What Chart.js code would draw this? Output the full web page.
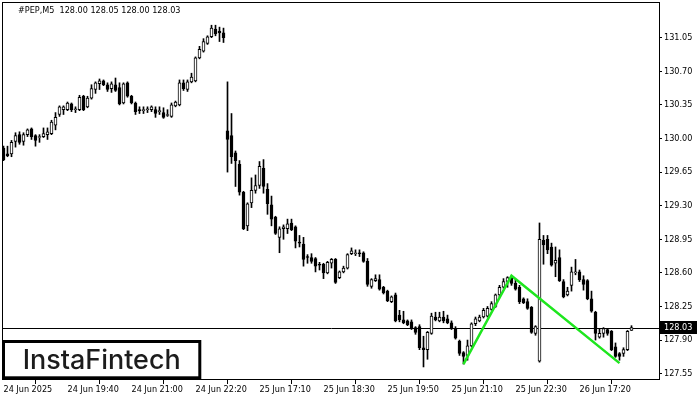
<!DOCTYPE html>
<html><head><meta charset="utf-8">
<script src="https://cdn.jsdelivr.net/npm/chart.js@4"></script>
<style>html,body{margin:0;padding:0;background:#fff;} #wrap{width:700px;height:400px;position:relative;}</style>
</head><body><div id="wrap"><canvas id="c" width="700" height="400"></canvas></div>
<script>
// ---- data (M5 candles) ----
const opens = [129.90,129.84,129.84,129.97,130.04,129.97,130.04,130.10,130.03,130.01,130.02,130.04,130.05,130.14,130.25,130.30,130.30,130.36,130.30,130.30,
130.44,130.33,130.42,130.51,130.57,130.60,130.56,130.52,130.56,130.53,130.37,130.58,130.44,130.37,130.30,130.29,130.30,130.30,130.30,130.28,
130.27,130.24,130.23,130.34,130.35,130.58,130.51,130.59,130.60,130.84,130.91,130.99,131.06,131.14,131.12,131.10,130.08,130.03,129.85,129.73,
129.44,129.09,129.33,129.46,129.51,129.69,129.47,129.31,129.18,128.97,129.06,129.06,129.12,129.08,128.92,128.90,128.77,128.76,128.75,128.69,
128.69,128.60,128.70,128.74,128.55,128.61,128.65,128.80,128.80,128.81,128.81,128.72,128.46,128.52,128.53,128.45,128.41,128.30,128.37,128.16,
128.11,128.10,128.09,128.03,128.04,127.82,127.80,127.97,128.14,128.10,128.14,128.12,128.08,128.02,127.89,127.77,127.74,127.84,128.07,128.10,
128.14,128.15,128.22,128.25,128.37,128.45,128.51,128.55,128.49,128.45,128.33,128.30,128.24,127.97,127.68,128.94,128.95,128.87,128.70,128.76,
128.51,128.37,128.47,128.60,128.61,128.53,128.52,128.33,128.19,127.93,127.97,128.01,127.99,127.83,127.76,127.76,127.80,128.00];
const highs = [129.92,129.92,129.98,130.06,130.07,130.06,130.10,130.11,130.04,130.04,130.11,130.11,130.19,130.27,130.34,130.34,130.38,130.37,130.33,130.45,
130.45,130.44,130.56,130.59,130.62,130.61,130.58,130.59,130.63,130.58,130.58,130.59,130.45,130.38,130.33,130.33,130.33,130.34,130.33,130.33,
130.32,130.30,130.37,130.39,130.61,130.61,130.61,130.68,130.85,130.96,131.04,131.07,131.18,131.18,131.16,131.15,130.59,130.26,129.87,129.77,
129.45,129.33,129.59,129.62,129.76,129.78,129.53,129.40,129.19,129.08,129.10,129.16,129.16,129.09,128.99,128.97,128.79,128.80,128.76,128.71,
128.70,128.72,128.75,128.75,128.62,128.67,128.80,128.86,128.84,128.84,128.82,128.75,128.54,128.58,128.58,128.46,128.42,128.36,128.39,128.21,
128.20,128.11,128.11,128.04,128.06,127.94,127.99,128.18,128.19,128.19,128.20,128.16,128.10,128.04,127.90,127.78,127.90,128.08,128.14,128.16,
128.23,128.25,128.30,128.38,128.47,128.54,128.56,128.57,128.53,128.47,128.34,128.33,128.25,128.05,129.12,128.99,128.99,128.91,128.87,128.84,
128.53,128.45,128.66,128.74,128.63,128.57,128.53,128.41,128.20,128.02,128.03,128.02,128.00,127.87,127.77,127.82,128.00,128.05];
const lows = [129.77,129.81,129.81,129.91,129.94,129.93,130.02,129.99,129.92,129.96,130.01,129.99,130.04,130.09,130.23,130.25,130.29,130.28,130.27,130.29,
130.29,130.32,130.41,130.47,130.51,130.55,130.49,130.48,130.49,130.35,130.36,130.43,130.36,130.25,130.26,130.26,130.27,130.28,130.22,130.25,
130.21,130.23,130.22,130.33,130.34,130.50,130.49,130.58,130.59,130.83,130.90,130.98,131.05,131.07,131.01,131.00,129.65,129.74,129.50,129.41,
129.05,129.04,129.28,129.43,129.48,129.43,129.21,129.09,129.00,128.81,128.95,129.01,129.04,128.86,128.87,128.67,128.70,128.70,128.61,128.63,
128.54,128.59,128.65,128.49,128.54,128.60,128.64,128.79,128.78,128.77,128.71,128.46,128.44,128.51,128.42,128.38,128.30,128.29,128.09,128.09,
128.07,128.05,128.01,127.96,127.80,127.62,127.70,127.96,128.10,128.09,128.08,128.07,128.01,127.91,127.74,127.65,127.69,127.83,128.05,128.09,
128.13,128.14,128.21,128.24,128.35,128.44,128.45,128.47,128.42,128.28,128.28,128.22,127.97,127.95,127.67,128.69,128.80,128.67,128.56,128.51,
128.34,128.36,128.41,128.58,128.51,128.42,128.32,128.19,127.90,127.92,127.93,127.95,127.79,127.72,127.69,127.73,127.79,128.00];
const closes = [129.78,129.82,129.96,130.03,129.96,130.04,130.09,130.02,129.98,130.02,130.05,130.07,130.17,130.22,130.33,130.33,130.37,130.30,130.31,130.43,
130.30,130.42,130.52,130.58,130.60,130.56,130.51,130.57,130.50,130.36,130.57,130.44,130.37,130.28,130.29,130.30,130.31,130.33,130.26,130.29,
130.22,130.25,130.35,130.38,130.58,130.52,130.59,130.64,130.84,130.93,131.01,131.06,131.15,131.09,131.10,131.05,129.99,129.81,129.77,129.44,
129.06,129.32,129.46,129.51,129.71,129.50,129.32,129.16,129.01,129.06,129.08,129.11,129.05,128.93,128.91,128.74,128.76,128.72,128.67,128.68,
128.60,128.71,128.74,128.50,128.61,128.65,128.79,128.83,128.81,128.80,128.72,128.48,128.53,128.54,128.43,128.39,128.31,128.35,128.10,128.11,
128.08,128.06,128.02,127.98,127.82,127.80,127.98,128.15,128.11,128.14,128.10,128.08,128.02,127.92,127.76,127.73,127.84,128.07,128.12,128.14,
128.21,128.23,128.28,128.37,128.45,128.51,128.55,128.49,128.43,128.30,128.29,128.23,127.98,128.04,128.95,128.89,128.84,128.68,128.73,128.52,
128.35,128.41,128.61,128.61,128.53,128.48,128.33,128.20,127.97,127.97,128.02,127.97,127.80,127.73,127.73,127.80,127.99,128.03];
const xTickLabels = ['24 Jun 2025','24 Jun 19:40','24 Jun 21:00','24 Jun 22:20','25 Jun 17:10','25 Jun 18:30','25 Jun 19:50','25 Jun 21:10','25 Jun 22:30','26 Jun 17:20'];
const xTickEvery = 16;
const yTickValues = [127.55,127.90,128.25,128.60,128.95,129.30,129.65,130.00,130.35,130.70,131.05];
const patternX = [115,127,154];
const patternY = [127.65,128.57,127.66];
const symbolTitle = '#PEP,M5';
const logoText = 'InstaFintech';

const barIndex = opens.map((_, i) => i);
const last = opens.length - 1;
const FONT = "'DejaVu Sans Condensed', 'DejaVu Sans', sans-serif";

const extras = {
  id: 'extras',
  beforeDatasetsDraw(chart) {
    const {ctx, chartArea: a, scales: {y}} = chart;
    const py = Math.round(y.getPixelForValue(closes[last])) + 0.5;
    ctx.save();
    ctx.strokeStyle = '#000'; ctx.lineWidth = 1;
    ctx.beginPath(); ctx.moveTo(a.left, py); ctx.lineTo(a.right + 1, py); ctx.stroke();
    ctx.restore();
  },
  afterDraw(chart) {
    const {ctx, chartArea: a, scales: {y}} = chart;
    ctx.save();
    // frame
    ctx.strokeStyle = '#000'; ctx.lineWidth = 1;
    ctx.strokeRect(a.left - 0.5, a.top - 0.5, a.right - a.left + 1, a.bottom - a.top);
    // title
    ctx.fillStyle = '#000';
    ctx.font = '9px ' + FONT;
    ctx.textBaseline = 'middle'; ctx.textAlign = 'left';
    const t = symbolTitle + '  ' + [opens[last], highs[last], lows[last], closes[last]].map(v => v.toFixed(2)).join(' ');
    ctx.fillText(t, 18, 11);
    // current price label
    const py = Math.round(y.getPixelForValue(closes[last]));
    ctx.fillStyle = '#000';
    ctx.fillRect(a.right + 1, py - 7, 37, 13);
    ctx.fillStyle = '#fff';
    ctx.fillText(closes[last].toFixed(2), a.right + 5, py);
    // logo
    ctx.fillStyle = '#fff';
    ctx.fillRect(3.5, 341.5, 196.3, 36.3);
    ctx.strokeStyle = '#000'; ctx.lineWidth = 3;
    ctx.strokeRect(3.5, 341.5, 196.3, 36.3);
    ctx.font = '500 28px Inter, Lato, sans-serif';
    const w = ctx.measureText(logoText).width;
    const fs = 28 * 158 / w;
    ctx.font = '500 ' + fs.toFixed(2) + 'px Inter, Lato, sans-serif';
    ctx.fillStyle = '#1c1c1c';
    ctx.textBaseline = 'alphabetic';
    ctx.fillText(logoText, 22.7, 369.3);
    ctx.restore();
  }
};

new Chart(document.getElementById('c'), {
  type: 'bar',
  data: {
    datasets: [
      {
        type: 'line', order: 0,
        data: patternX.map((x, k) => ({x, y: patternY[k]})),
        borderColor: 'rgb(30,230,30)', borderWidth: 2.5, pointRadius: 0, tension: 0, fill: false
      },
      {
        order: 1, grouped: false, barThickness: 3,
        data: barIndex.map(i => ({x: i, y: [opens[i], closes[i]]})),
        backgroundColor: c => closes[c.dataIndex] >= opens[c.dataIndex] ? '#fff' : '#000',
        borderColor: '#000', borderWidth: 1, borderSkipped: false
      },
      {
        order: 2, grouped: false, barThickness: 1,
        data: barIndex.map(i => ({x: i, y: [lows[i], highs[i]]})),
        backgroundColor: '#000', borderWidth: 0
      }
    ]
  },
  options: {
    responsive: false, animation: false,
    layout: {padding: {left: 3, top: 3, right: 0, bottom: 0}},
    plugins: {legend: {display: false}, tooltip: {enabled: false}, title: {display: false}},
    scales: {
      x: {
        type: 'linear', offset: false,
        min: -0.125, max: 163.875,
        border: {display: false},
        grid: {drawOnChartArea: false, drawTicks: true, tickLength: 4, color: '#000', tickColor: '#000'},
        ticks: {
          autoSkip: false, maxRotation: 0, align: 'start', padding: 0,
          color: '#000', font: {family: FONT, size: 9},
          callback: v => xTickLabels[Math.round(v / xTickEvery)]
        },
        afterBuildTicks: s => { s.ticks = xTickLabels.map((_, k) => ({value: k * xTickEvery})); },
        afterFit: s => { s.height = 20; s.paddingLeft = 0; s.paddingRight = 0; }
      },
      y: {
        type: 'linear', position: 'right',
        min: 127.484, max: 131.4115,
        border: {display: false},
        grid: {drawOnChartArea: false, drawTicks: true, tickLength: 3, color: '#000', tickColor: '#000'},
        ticks: {
          padding: 2, color: '#000', font: {family: FONT, size: 9},
          callback: v => Number(v).toFixed(2)
        },
        afterBuildTicks: s => { s.ticks = yTickValues.map(v => ({value: v})); },
        afterFit: s => { s.width = 41; s.paddingTop = 0; s.paddingBottom = 0; }
      }
    }
  },
  plugins: [extras]
});
</script>
</body></html>
